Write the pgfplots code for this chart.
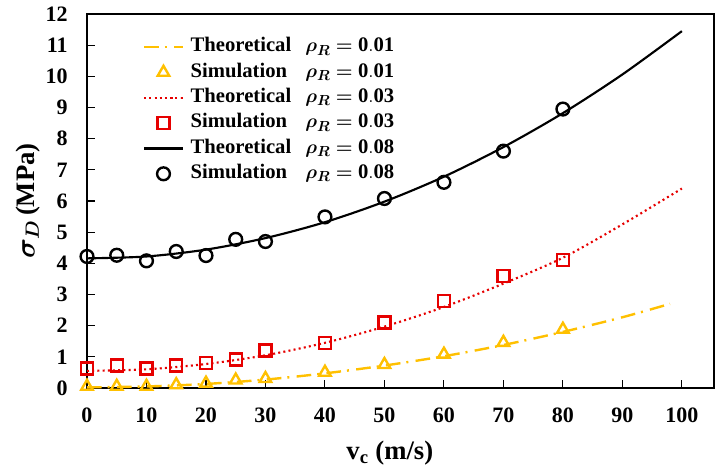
\documentclass[border=0pt]{standalone}
\usepackage{fontspec}
\setmainfont{Liberation Serif}
\usepackage{amsmath,bm}
\usepackage{pgfplots}
\pgfplotsset{compat=1.18}

\definecolor{cgold}{RGB}{255,192,0}
\definecolor{cred}{RGB}{230,0,0}

\newcommand{\lab}[2]{\textbf{\makebox[86pt][l]{#1}}$\bm{\rho_R}\bm{=}\mathbf{0.#2}$}

\begin{document}
\begin{tikzpicture}
\begin{axis}[
    scale only axis,
    width=470.25pt, height=280.5pt,
    xmin=0, xmax=105.4, ymin=0, ymax=12,
    xtick={0,10,...,100}, ytick={0,1,...,12},
    xtick pos=left, ytick pos=left,
    tick align=inside,
    major tick length=6pt,
    axis line style={line width=0.9pt},
    every tick/.style={black, line width=0.8pt},
    /pgf/number format/assume math mode=true,
    tick label style={font=\fontsize{16.5}{18}\selectfont\bfseries},
    xticklabel style={yshift=-11pt},
    yticklabel style={xshift=-11pt},
    xlabel={\textbf{v\textsubscript{c} (m/s)}},
    ylabel={$\bm{\sigma_D}$\,\textbf{(MPa)}},
    label style={font=\fontsize{20}{24}\selectfont},
    xlabel style={at={(axis description cs:0.483,-0.174)}, anchor=center},
    ylabel style={at={(axis description cs:-0.0936,0.5)}, anchor=center},
    legend image code/.code={\draw[mark repeat=2,mark phase=2,#1] plot coordinates {(0pt,0pt) (14.5pt,0pt) (29pt,0pt)};},
    legend style={at={(axis description cs:0.0888,0.946)}, anchor=north west,
        draw=none, fill=none, inner sep=0pt,
        font=\fontsize{15.5}{18}\selectfont,
        nodes={text height=11pt, text depth=4pt, inner sep=2pt},
        /tikz/every odd column/.style={column sep=3pt},
        row sep=0pt},
    legend cell align=left,
]
% rho_R = 0.01
\addplot[cgold, line width=1.8pt, dash pattern=on 11pt off 4.5pt on 1.5pt off 5.5pt, smooth] coordinates {
    (0,0.02)(10,0.05)(20,0.13)(30,0.27)(40,0.47)(50,0.72)(60,1.02)(70,1.38)(80,1.80)(90,2.27)(98,2.70)
};
\addlegendentry{\lab{Theoretical}{01}}
\addplot[cgold, only marks, mark=triangle, mark size=5pt, mark options={line width=1.8pt}] coordinates {
    (0,0.05)(5,0.05)(10,0.05)(15,0.1)(20,0.15)(25,0.25)(30,0.3)(40,0.5)(50,0.75)(60,1.08)(70,1.46)(80,1.88)
};
\addlegendentry{\lab{Simulation}{01}}
% rho_R = 0.03
\addplot[cred, line width=1.6pt, dash pattern=on 1.5pt off 2.4pt, smooth] coordinates {
    (0,0.55)(10,0.60)(20,0.77)(30,1.05)(40,1.45)(50,1.97)(60,2.60)(70,3.35)(80,4.18)(90,5.25)(100,6.40)
};
\addlegendentry{\lab{Theoretical}{03}}
\addplot[cred, only marks, mark=square, mark size=4.5pt, mark options={line width=1.8pt}] coordinates {
    (0,0.62)(5,0.72)(10,0.62)(15,0.72)(20,0.8)(25,0.92)(30,1.2)(40,1.45)(50,2.1)(60,2.8)(70,3.59)(80,4.11)
};
\addlegendentry{\lab{Simulation}{03}}
% rho_R = 0.08
\addplot[black, line width=1.6pt, smooth] coordinates {
    (0,4.16)(10,4.22)(20,4.44)(30,4.81)(40,5.32)(50,5.98)(60,6.78)(70,7.73)(80,8.82)(90,10.06)(100,11.45)
};
\addlegendentry{\lab{Theoretical}{08}}
\addplot[black, only marks, mark=o, mark size=4.8pt, mark options={line width=1.8pt}] coordinates {
    (0,4.22)(5,4.26)(10,4.08)(15,4.38)(20,4.25)(25,4.77)(30,4.70)(40,5.49)(50,6.08)(60,6.60)(70,7.60)(80,8.95)
};
\addlegendentry{\lab{Simulation}{08}}
\end{axis}
\pgfresetboundingbox
\path ([shift={(-65.25pt,-60pt)}]current axis.south west) rectangle ([shift={(10.5pt,10.5pt)}]current axis.north east);
\end{tikzpicture}
\end{document}
